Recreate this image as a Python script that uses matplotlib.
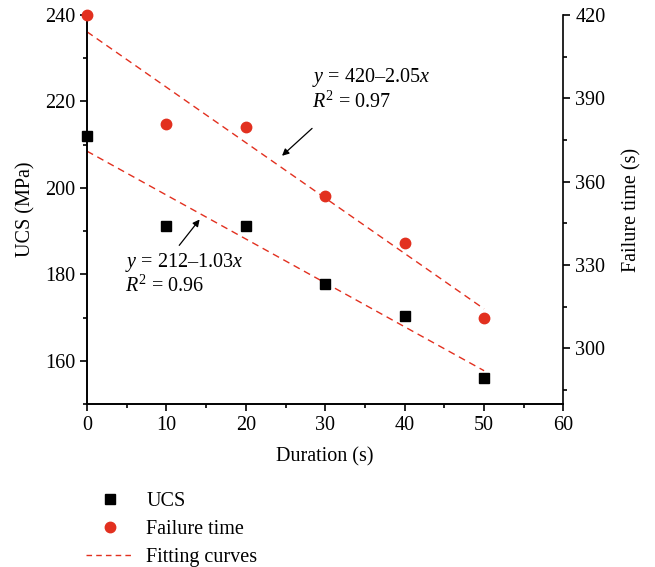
import matplotlib
matplotlib.use("Agg")
import matplotlib.pyplot as plt
from matplotlib.lines import Line2D
from matplotlib.ticker import MultipleLocator
import numpy as np

plt.rcParams['font.family'] = ['Liberation Serif', 'DejaVu Serif']
plt.rcParams['mathtext.fontset'] = 'custom'
plt.rcParams['mathtext.rm'] = 'Liberation Serif'
plt.rcParams['mathtext.it'] = 'Liberation Serif:italic'

duration = [0, 10, 20, 30, 40, 50]
ucs = [212.0, 191.2, 191.2, 177.8, 170.3, 156.1]
failure_time = [420.0, 380.8, 379.8, 355.0, 338.0, 311.0]

RED = "#e2301f"
FS = 14.5


def main():
    fig = plt.figure(figsize=(6.55, 5.67), dpi=100)
    ax = fig.add_axes([0.1328, 0.2875, 0.7275, 0.686])
    ax2 = ax.twinx()

    # linear fits of both series
    xs = np.array([duration[0], duration[-1]], dtype=float)
    k1, b1 = np.polyfit(duration, ucs, 1)
    k2, b2 = np.polyfit(duration, failure_time, 1)

    ax.plot(xs, k1 * xs + b1, ls=(0, (5, 3.5)), color=RED, lw=1.0, zorder=2)
    ax2.plot(xs, k2 * xs + b2, ls=(0, (5, 3.5)), color=RED, lw=1.0, zorder=2)

    ax.plot(duration, ucs, ls="none", marker="s", ms=6.5, color="black",
            clip_on=False, zorder=3)
    ax2.plot(duration, failure_time, ls="none", marker="o", ms=7.5,
             color=RED, clip_on=False, zorder=3)

    ax.set_xlim(0, 60)
    ax.set_ylim(150, 240)
    ax2.set_ylim(280, 420)

    ax.xaxis.set_major_locator(MultipleLocator(10))
    ax.xaxis.set_minor_locator(MultipleLocator(5))
    ax.yaxis.set_minor_locator(MultipleLocator(10))
    ax2.yaxis.set_minor_locator(MultipleLocator(15))
    ax.set_yticks([160, 180, 200, 220, 240])
    ax2.set_yticks([300, 330, 360, 390, 420])

    for a in (ax, ax2):
        a.spines['top'].set_visible(False)
        for s in a.spines.values():
            s.set_linewidth(1.2)
        a.tick_params(which="major", direction="out", length=5, width=1.2,
                      labelsize=FS)
        a.tick_params(which="minor", direction="out", length=3, width=1.2)
    ax.spines['right'].set_visible(False)

    ax.set_xlabel("Duration (s)", fontsize=FS, labelpad=9)
    ax.set_ylabel("UCS (MPa)", fontsize=FS, labelpad=7)
    ax2.set_ylabel("Failure time (s)", fontsize=FS, labelpad=12)

    # fit equations with arrows
    ax.text(28.3, 225.5, "$y$ = 420\u20132.05$x$", fontsize=FS, va="center")
    ax.text(28.3, 219.9, "$R^2$ = 0.97", fontsize=FS, va="center")
    ax.annotate("", xy=(24.3, 207.0), xytext=(28.6, 214.2),
                arrowprops=dict(arrowstyle="-|>", color="black", lw=0.9,
                                mutation_scale=10))
    ax.text(4.8, 182.8, "$y$ = 212\u20131.03$x$", fontsize=FS, va="center")
    ax.text(4.8, 177.2, "$R^2$ = 0.96", fontsize=FS, va="center")
    ax.annotate("", xy=(14.4, 193.2), xytext=(11.4, 186.2),
                arrowprops=dict(arrowstyle="-|>", color="black", lw=0.9,
                                mutation_scale=10))

    handles = [
        Line2D([], [], ls="none", marker="s", ms=6.5, color="black"),
        Line2D([], [], ls="none", marker="o", ms=7.5, color=RED),
        Line2D([], [], ls=(0, (4, 3)), lw=1.0, color=RED),
    ]
    fig.legend(handles, ["UCS", "Failure time", "Fitting curves"],
               loc="upper left", bbox_to_anchor=(0.119, 0.147),
               frameon=False, fontsize=FS, handlelength=2.4,
               handletextpad=0.6, labelspacing=0.45, borderaxespad=0)

    fig.savefig("out.png", dpi=100)


if __name__ == "__main__":
    main()
